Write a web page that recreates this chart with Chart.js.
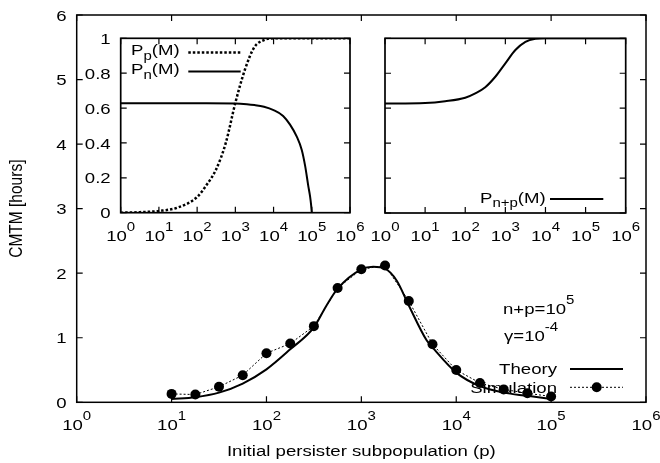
<!DOCTYPE html>
<html>
<head>
<meta charset="utf-8">
<script src="https://cdn.jsdelivr.net/npm/chart.js@4/dist/chart.umd.min.js"></script>
<style>
  html, body { margin: 0; padding: 0; background: #fff; }
  #wrap { position: relative; width: 660px; height: 463px; }
  #wrap canvas { position: absolute; left: 0; top: 0; }
</style>
</head>
<body>
<div id="wrap">
  <canvas id="main" width="660" height="463"></canvas>
  <canvas id="inset1" width="660" height="463"></canvas>
  <canvas id="inset2" width="660" height="463"></canvas>
</div>
<script>
// ---- Main panel: CMTM versus initial persister subpopulation (n+p = 1e5, gamma = 1e-4)
const simP      = [10, 17.8, 31.6, 56.2, 100, 178, 316, 562, 1000, 1778, 3162, 5623, 10000, 17783, 31623, 56234, 100000];
const simCMTM   = [0.13, 0.12, 0.24, 0.42, 0.76, 0.91, 1.18, 1.77, 2.06, 2.12, 1.57, 0.90, 0.50, 0.30, 0.20, 0.14, 0.09];
const theoryP   = [10, 17.8, 31.6, 56.2, 100, 178, 316, 422, 562, 1000, 1334, 1778, 2371, 3162, 4875, 5623, 10000, 17783, 31623, 56234, 100000];
const theoryCMTM= [0.05, 0.08, 0.15, 0.29, 0.51, 0.82, 1.16, 1.48, 1.76, 2.06, 2.10, 2.07, 1.88, 1.50, 0.96, 0.85, 0.46, 0.25, 0.15, 0.10, 0.05];

// ---- Left inset: P_p(M) and P_n(M)
const ppP   = [1, 3.16, 10, 31.6, 100, 178, 316, 562, 1000, 1778, 3162, 5623, 10000, 100000, 1000000];
const ppVal = [0, 0.003, 0.01, 0.03, 0.09, 0.16, 0.25, 0.40, 0.63, 0.82, 0.95, 0.99, 1.0, 1.0, 1.0];
const pnP   = [1, 10, 100, 1000, 2000, 3162, 5623, 10000, 17783, 27000, 40500, 54700, 66800, 81500, 90000, 96000, 100000];
const pnVal = [0.627, 0.627, 0.627, 0.626, 0.622, 0.617, 0.607, 0.588, 0.555, 0.505, 0.436, 0.36, 0.27, 0.15, 0.095, 0.045, 0];

// ---- Right inset: P_{n+p}(M)
const pnpP   = [1, 10, 31.6, 100, 178, 316, 562, 1000, 1778, 3162, 5623, 10000, 100000, 1000000];
const pnpVal = [0.627, 0.63, 0.64, 0.66, 0.685, 0.72, 0.78, 0.857, 0.933, 0.98, 0.997, 1.0, 1.0, 1.0];

// ---- Axis ticks and labels
const logTicks   = [1, 10, 100, 1000, 10000, 100000, 1000000];
const logExps    = ['0', '1', '2', '3', '4', '5', '6'];
const mainYTicks = [0, 1, 2, 3, 4, 5, 6];
const mainYLabels= ['0', '1', '2', '3', '4', '5', '6'];
const probTicks  = [0, 0.2, 0.4, 0.6, 0.8, 1];
const probLabels = ['0', '0.2', '0.4', '0.6', '0.8', '1'];

const FONT = '"Liberation Sans", Arial, Helvetica, sans-serif';
const BASE = 15.5, SCRIPT = 12.5, RISE = 10, DROP = 4.5, SX = 1.2, TICK = 6;

function segFont(k) { return (k ? SCRIPT : BASE) + 'px ' + FONT; }
function richWidth(ctx, segs) {
  let w = 0;
  segs.forEach(s => { ctx.font = segFont(s.k); w += ctx.measureText(s.t).width * SX; });
  return w;
}
// draws text runs with super/subscripts; y is the baseline of normal text
function drawRich(ctx, segs, x, y, align) {
  const w = richWidth(ctx, segs);
  let cx = align === 'center' ? x - w / 2 : align === 'right' ? x - w : x;
  ctx.textBaseline = 'alphabetic';
  ctx.textAlign = 'left';
  segs.forEach(s => {
    ctx.font = segFont(s.k);
    const dy = s.k === 'sup' ? -RISE : s.k === 'sub' ? DROP : 0;
    ctx.save();
    ctx.translate(cx, y + dy);
    ctx.scale(SX, 1);
    ctx.fillText(s.t, 0, 0);
    ctx.restore();
    cx += ctx.measureText(s.t).width * SX;
  });
}
function hLine(ctx, x1, x2, y, w, dash) {
  ctx.save();
  ctx.lineWidth = w;
  ctx.setLineDash(dash || []);
  ctx.beginPath(); ctx.moveTo(x1, y); ctx.lineTo(x2, y); ctx.stroke();
  ctx.restore();
}

// frame with inward mirrored ticks, tick labels and extra annotations
function framePlugin(cfg) {
  return {
    id: 'frame_' + cfg.name,
    afterDatasetsDraw(chart) {
      const ctx = chart.ctx, a = chart.chartArea;
      const xs = chart.scales.x, ys = chart.scales.y;
      ctx.save();
      ctx.strokeStyle = '#000';
      ctx.fillStyle = '#000';
      ctx.lineWidth = 1.2;
      ctx.beginPath();
      logTicks.forEach(v => {
        const px = xs.getPixelForValue(v);
        ctx.moveTo(px, a.bottom); ctx.lineTo(px, a.bottom - TICK);
        ctx.moveTo(px, a.top);    ctx.lineTo(px, a.top + TICK);
      });
      cfg.yTicks.forEach(v => {
        const py = ys.getPixelForValue(v);
        ctx.moveTo(a.left, py);  ctx.lineTo(a.left + TICK, py);
        ctx.moveTo(a.right, py); ctx.lineTo(a.right - TICK, py);
      });
      ctx.stroke();
      ctx.lineWidth = cfg.frameWidth;
      ctx.strokeRect(a.left, a.top, a.right - a.left, a.bottom - a.top);

      logTicks.forEach((v, i) => {
        drawRich(ctx, [{ t: '10' }, { t: logExps[i], k: 'sup' }], xs.getPixelForValue(v), a.bottom + 28, 'center');
      });
      if (cfg.yLabels) {
        cfg.yTicks.forEach((v, i) => {
          drawRich(ctx, [{ t: cfg.yLabels[i] }], a.left - 10, ys.getPixelForValue(v) + 5.6, 'right');
        });
      }
      if (cfg.extra) cfg.extra(ctx, chart);
      ctx.restore();
    }
  };
}

function pts(xs, ys) { return xs.map((x, i) => ({ x: x, y: ys[i] })); }

function baseOptions(pad, ymax) {
  return {
    responsive: false,
    animation: false,
    devicePixelRatio: 1,
    events: [],
    layout: { padding: pad },
    scales: {
      x: { type: 'logarithmic', min: 1, max: 1e6, display: false },
      y: { type: 'linear', min: 0, max: ymax, display: false }
    },
    plugins: { legend: { display: false }, tooltip: { enabled: false } }
  };
}

// ---- main chart
new Chart(document.getElementById('main'), {
  type: 'line',
  data: {
    datasets: [
      { label: 'Theory', data: pts(theoryP, theoryCMTM), borderColor: '#000', borderWidth: 2,
        pointRadius: 0, cubicInterpolationMode: 'monotone', fill: false },
      { label: 'Simulation', data: pts(simP, simCMTM), borderColor: '#000', borderWidth: 1, borderDash: [2, 2],
        pointRadius: 5, pointBackgroundColor: '#000', pointBorderColor: '#000', pointBorderWidth: 0, tension: 0, fill: false }
    ]
  },
  options: baseOptions({ left: 76.7, top: 15, right: 14, bottom: 60.7 }, 6),
  plugins: [framePlugin({
    name: 'main', yTicks: mainYTicks, yLabels: mainYLabels, frameWidth: 1.5,
    extra(ctx, chart) {
      const a = chart.chartArea;
      drawRich(ctx, [{ t: 'n+p=10' }, { t: '5', k: 'sup' }], 503, 313.5, 'left');
      drawRich(ctx, [{ t: 'γ=10' }, { t: '-4', k: 'sup' }], 504, 340.5, 'left');
      drawRich(ctx, [{ t: 'Theory' }], 557, 373.5, 'right');
      hLine(ctx, 570, 623, 369, 2);
      drawRich(ctx, [{ t: 'Simulation' }], 557, 392.5, 'right');
      hLine(ctx, 570, 623, 387.3, 1, [2, 2]);
      ctx.beginPath(); ctx.arc(596.7, 387.3, 5, 0, Math.PI * 2); ctx.fill();
      // axis titles
      drawRich(ctx, [{ t: 'Initial persister subpopulation (p)' }], (a.left + a.right) / 2, 455.5, 'center');
      ctx.save();
      ctx.translate(17, (a.top + a.bottom) / 2);
      ctx.scale(SX, 1);
      ctx.rotate(-Math.PI / 2);
      ctx.font = BASE + 'px ' + FONT;
      ctx.textAlign = 'center';
      ctx.textBaseline = 'middle';
      ctx.fillText('CMTM [hours]', 0, 0);
      ctx.restore();
    }
  })]
});

// ---- left inset
new Chart(document.getElementById('inset1'), {
  type: 'line',
  data: {
    datasets: [
      { label: 'Pp(M)', data: pts(ppP, ppVal), borderColor: '#000', borderWidth: 2.5, borderDash: [2.5, 2],
        pointRadius: 0, cubicInterpolationMode: 'monotone', fill: false },
      { label: 'Pn(M)', data: pts(pnP, pnVal), borderColor: '#000', borderWidth: 2,
        pointRadius: 0, cubicInterpolationMode: 'monotone', fill: false }
    ]
  },
  options: baseOptions({ left: 120.7, top: 38.3, right: 310, bottom: 250.3 }, 1),
  plugins: [framePlugin({
    name: 'inset1', yTicks: probTicks, yLabels: probLabels, frameWidth: 1.7,
    extra(ctx) {
      drawRich(ctx, [{ t: 'P' }, { t: 'p', k: 'sub' }, { t: '(M)' }], 131, 55, 'left');
      hLine(ctx, 188.3, 240.7, 52.5, 2.5, [2.5, 2]);
      drawRich(ctx, [{ t: 'P' }, { t: 'n', k: 'sub' }, { t: '(M)' }], 131, 74, 'left');
      hLine(ctx, 188.3, 240.7, 71.5, 2);
    }
  })]
});

// ---- right inset
new Chart(document.getElementById('inset2'), {
  type: 'line',
  data: {
    datasets: [
      { label: 'Pn+p(M)', data: pts(pnpP, pnpVal), borderColor: '#000', borderWidth: 2,
        pointRadius: 0, cubicInterpolationMode: 'monotone', fill: false }
    ]
  },
  options: baseOptions({ left: 385, top: 38.3, right: 34.3, bottom: 250 }, 1),
  plugins: [framePlugin({
    name: 'inset2', yTicks: probTicks, yLabels: null, frameWidth: 1.7,
    extra(ctx) {
      drawRich(ctx, [{ t: 'P' }, { t: 'n+p', k: 'sub' }, { t: '(M)' }], 480, 202.5, 'left');
      hLine(ctx, 550, 603.3, 199, 2);
    }
  })]
});
</script>
</body>
</html>
